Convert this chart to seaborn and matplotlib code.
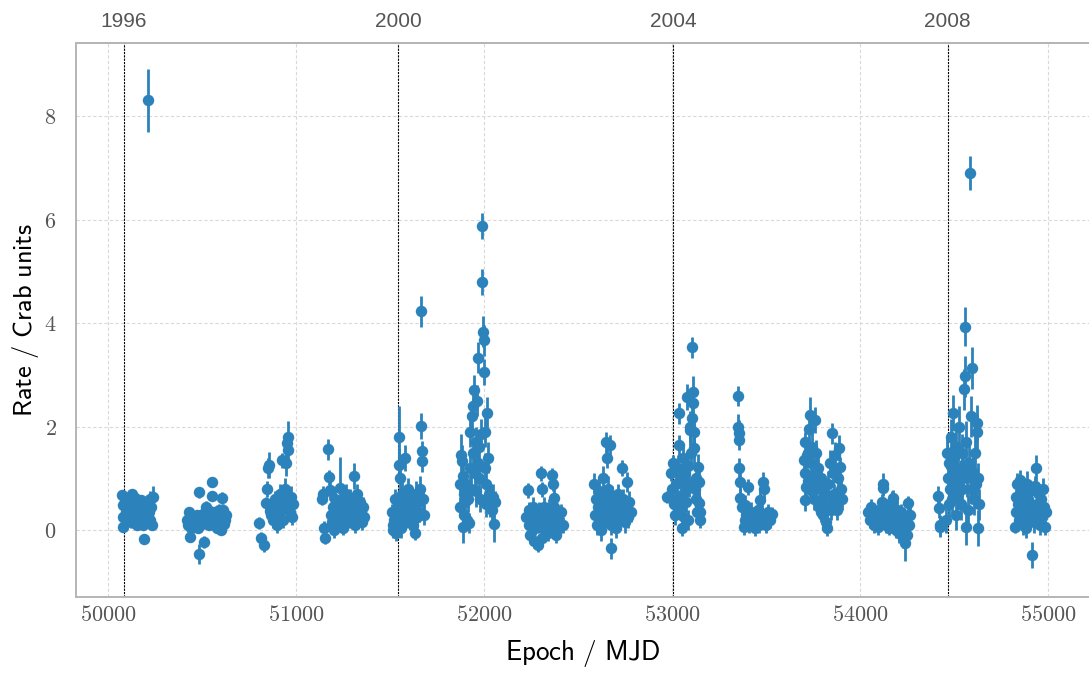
import numpy as np
import pandas as pd
import matplotlib
matplotlib.use("Agg")
import matplotlib.pyplot as plt
import seaborn as sns

# ---------------------------------------------------------------------------
# Light curve: rate (Crab units) per observing season, with 1-sigma errors
# ---------------------------------------------------------------------------
mjd_s01 = [50075, 50078, 50080, 50082, 50090, 50095, 50100, 50105, 50110, 50115, 50120, 50125,
           50130, 50135, 50140, 50145, 50150, 50155, 50160, 50165, 50170, 50175, 50180, 50185,
           50190, 50195, 50200, 50205, 50210, 50214, 50218, 50222, 50226, 50230, 50234, 50238]
rate_s01 = [0.68, 0.48, 0.25, 0.06, 0.55, 0.35, 0.42, 0.20, 0.60, 0.30, 0.15, 0.50,
            0.70, 0.40, 0.25, 0.62, 0.35, 0.10, 0.50, 0.45, 0.20, 0.58, 0.30, 0.10,
            -0.17, 0.40, 0.55, 0.25, 0.15, 8.30, 0.35, 0.60, 0.20, 0.45, 0.10, 0.65]
err_s01 = [0.08, 0.10, 0.10, 0.10, 0.10, 0.12, 0.10, 0.10, 0.10, 0.10, 0.10, 0.12,
           0.10, 0.10, 0.10, 0.10, 0.10, 0.10, 0.10, 0.12, 0.10, 0.10, 0.10, 0.10,
           0.10, 0.10, 0.10, 0.10, 0.10, 0.60, 0.10, 0.15, 0.10, 0.12, 0.10, 0.20]

mjd_s02 = [50420, 50426, 50431, 50436, 50442, 50448, 50454, 50460, 50466, 50472, 50478, 50484,
           50486, 50490, 50496, 50502, 50511, 50516, 50522, 50528, 50534, 50540, 50546, 50553,
           50555, 50560, 50566, 50572, 50578, 50584, 50590, 50596, 50602, 50606, 50612, 50618,
           50624, 50630]
rate_s02 = [0.20, 0.10, 0.35, -0.13, 0.05, 0.20, 0.15, 0.25, 0.10, 0.30, 0.05, 0.73,
            -0.46, 0.20, 0.30, 0.12, -0.23, 0.35, 0.45, 0.25, 0.40, 0.10, 0.30, 0.93,
            0.66, 0.15, 0.35, 0.20, 0.05, 0.30, 0.40, 0.25, 0.00, 0.62, 0.40, 0.12,
            0.20, 0.30]
err_s02 = [0.10, 0.10, 0.10, 0.10, 0.10, 0.10, 0.12, 0.10, 0.10, 0.10, 0.10, 0.10,
           0.20, 0.10, 0.10, 0.10, 0.12, 0.10, 0.12, 0.10, 0.10, 0.10, 0.10, 0.10,
           0.10, 0.12, 0.10, 0.10, 0.10, 0.10, 0.10, 0.10, 0.10, 0.12, 0.10, 0.10,
           0.12, 0.10]

mjd_s03 = [50805, 50814, 50830, 50840, 50846, 50851, 50855, 50862, 50868, 50874, 50880, 50886,
           50892, 50898, 50904, 50910, 50916, 50922, 50926, 50930, 50936, 50942, 50946, 50950,
           50952, 50957, 50960, 50966, 50972, 50978, 50984]
rate_s03 = [0.14, -0.15, -0.28, 0.52, 0.80, 1.20, 1.26, 0.38, 0.30, 0.45, 0.20, 0.60,
            0.35, 0.10, 0.50, 0.30, 0.70, 0.40, 1.35, 0.20, 0.55, 0.80, 1.30, 0.45,
            1.68, 1.80, 1.55, 0.35, 0.65, 0.25, 0.50]
err_s03 = [0.12, 0.12, 0.15, 0.12, 0.15, 0.20, 0.25, 0.15, 0.12, 0.15, 0.15, 0.15,
           0.20, 0.15, 0.15, 0.20, 0.20, 0.15, 0.15, 0.15, 0.20, 0.20, 0.25, 0.15,
           0.20, 0.30, 0.25, 0.15, 0.20, 0.15, 0.15]

mjd_s04 = [51140, 51144, 51150, 51155, 51170, 51175, 51180, 51185, 51190, 51196, 51202, 51208,
           51214, 51220, 51226, 51234, 51240, 51246, 51252, 51258, 51264, 51270, 51276, 51282,
           51288, 51294, 51300, 51309, 51314, 51320, 51326, 51332, 51338, 51344, 51350, 51356,
           51362]
rate_s04 = [0.60, 0.70, 0.05, -0.15, 1.56, 1.02, 0.78, 0.30, 0.15, 0.45, 0.00, 0.60,
            0.25, 0.10, 0.40, 0.82, 0.20, 0.55, 0.05, 0.35, 0.70, 0.15, 0.45, 0.25,
            0.60, 0.30, 0.50, 1.05, 0.10, 0.40, 0.70, 0.20, 0.55, 0.35, 0.15, 0.45,
            0.25]
err_s04 = [0.12, 0.15, 0.12, 0.12, 0.20, 0.15, 0.20, 0.15, 0.15, 0.20, 0.15, 0.20,
           0.15, 0.15, 0.20, 0.60, 0.15, 0.20, 0.15, 0.20, 0.20, 0.15, 0.20, 0.20,
           0.20, 0.15, 0.20, 0.25, 0.15, 0.20, 0.20, 0.15, 0.20, 0.15, 0.15, 0.20,
           0.15]

mjd_s05 = [51510, 51514, 51518, 51522, 51526, 51530, 51534, 51538, 51542, 51546, 51548, 51552,
           51556, 51560, 51565, 51570, 51575, 51580, 51585, 51590, 51595, 51600, 51605, 51610,
           51615, 51620, 51625, 51633, 51638, 51643, 51648, 51653, 51658, 51663, 51665, 51668,
           51670, 51675, 51680]
rate_s05 = [0.35, 0.10, 0.00, 0.20, 0.60, -0.05, 0.30, 0.15, 0.50, 1.26, 1.80, 1.00,
            0.50, 0.05, 0.70, 0.35, 0.20, 1.39, 0.55, 0.25, 0.80, 0.40, 0.15, 0.60,
            0.30, 0.10, 0.45, -0.06, 0.70, 0.25, 0.55, 0.35, 0.80, 4.23, 2.01, 1.53,
            1.33, 0.60, 0.30]
err_s05 = [0.15, 0.15, 0.15, 0.20, 0.20, 0.15, 0.20, 0.20, 0.20, 0.30, 0.60, 0.40,
           0.30, 0.20, 0.30, 0.20, 0.20, 0.25, 0.20, 0.20, 0.20, 0.20, 0.15, 0.20,
           0.20, 0.15, 0.20, 0.12, 0.25, 0.20, 0.20, 0.20, 0.25, 0.30, 0.25, 0.20,
           0.20, 0.20, 0.20]

mjd_s06 = [51870, 51875, 51880, 51883, 51886, 51888, 51892, 51896, 51900, 51905, 51910, 51915,
           51920, 51924, 51928, 51932, 51936, 51940, 51944, 51947, 51950, 51955, 51960, 51963,
           51966, 51968, 51972, 51976, 51980, 51984, 51989, 51992, 51995, 51998, 52000, 52003,
           52006, 52010, 52013, 52016, 52020, 52025, 52030, 52035, 52040, 52045, 52048, 52053,
           52058]
rate_s06 = [0.90, 0.45, 1.45, 1.34, 0.06, 1.05, 0.70, 0.30, 0.55, 0.90, 0.20, 0.60,
            0.14, 1.20, 1.90, 0.80, 2.20, 2.40, 1.50, 2.70, 1.10, 1.70, 0.75, 2.50,
            1.30, 3.33, 1.00, 1.60, 0.60, 1.85, 5.88, 4.80, 3.83, 3.67, 3.05, 1.90,
            1.20, 0.90, 0.50, 2.27, 1.40, 0.70, 0.50, 0.65, 0.40, 0.60, 0.64, 0.12,
            0.55]
err_s06 = [0.20, 0.20, 0.40, 0.30, 0.30, 0.30, 0.25, 0.20, 0.25, 0.20, 0.20, 0.25,
           0.20, 0.30, 0.30, 0.25, 0.30, 0.30, 0.30, 0.30, 0.30, 0.30, 0.30, 0.30,
           0.30, 0.30, 0.30, 0.30, 0.25, 0.30, 0.25, 0.25, 0.30, 0.30, 0.25, 0.30,
           0.30, 0.25, 0.25, 0.30, 0.30, 0.25, 0.25, 0.25, 0.25, 0.25, 0.25, 0.35,
           0.20]

mjd_s07 = [52225, 52234, 52238, 52242, 52246, 52250, 52255, 52260, 52265, 52270, 52275, 52287,
           52290, 52295, 52303, 52306, 52310, 52314, 52318, 52323, 52330, 52335, 52340, 52345,
           52350, 52355, 52362, 52367, 52370, 52375, 52380, 52385, 52390, 52395, 52400, 52410,
           52420]
rate_s07 = [0.25, 0.77, 0.40, 0.10, -0.10, 0.30, 0.15, 0.45, -0.20, 0.05, 0.25, -0.28,
            0.35, 0.10, 1.10, 0.79, -0.15, 0.20, 0.45, 0.00, 0.30, 0.12, -0.05, 0.40,
            0.20, 0.05, 1.06, 0.90, 0.62, 0.45, 0.15, -0.10, 0.30, 0.20, 0.05, 0.35,
            0.10]
err_s07 = [0.15, 0.15, 0.15, 0.15, 0.15, 0.20, 0.15, 0.20, 0.15, 0.15, 0.15, 0.15,
           0.20, 0.15, 0.15, 0.15, 0.15, 0.15, 0.20, 0.15, 0.20, 0.15, 0.15, 0.20,
           0.15, 0.15, 0.15, 0.15, 0.20, 0.20, 0.15, 0.15, 0.15, 0.15, 0.15, 0.15,
           0.15]

mjd_s08 = [52585, 52590, 52595, 52600, 52605, 52610, 52615, 52620, 52625, 52630, 52635, 52640,
           52645, 52649, 52654, 52657, 52660, 52665, 52670, 52673, 52678, 52683, 52690, 52695,
           52700, 52705, 52712, 52718, 52725, 52734, 52738, 52742, 52748, 52755, 52761, 52767,
           52773, 52780]
rate_s08 = [0.90, 0.30, 0.60, 0.10, 0.45, 0.75, 0.20, 0.00, 0.55, 0.35, 1.00, 0.15,
            0.60, 1.70, 1.40, 0.80, 0.30, 0.50, 1.64, -0.35, 0.10, 0.65, 0.25, 0.45,
            0.05, 0.35, 0.70, 0.20, 0.50, 1.20, 0.30, 0.60, 0.15, 0.40, 0.93, 0.25,
            0.55, 0.35]
err_s08 = [0.20, 0.20, 0.20, 0.20, 0.20, 0.20, 0.20, 0.20, 0.20, 0.20, 0.25, 0.20,
           0.20, 0.20, 0.20, 0.25, 0.20, 0.20, 0.20, 0.20, 0.20, 0.20, 0.20, 0.20,
           0.20, 0.20, 0.20, 0.20, 0.20, 0.15, 0.20, 0.20, 0.20, 0.20, 0.20, 0.20,
           0.20, 0.20]

mjd_s09 = [52973, 52995, 53000, 53005, 53010, 53015, 53020, 53025, 53030, 53035, 53038, 53042,
           53046, 53053, 53056, 53060, 53064, 53068, 53072, 53076, 53080, 53083, 53086, 53090,
           53094, 53097, 53100, 53106, 53108, 53110, 53112, 53115, 53118, 53122, 53126, 53130,
           53135, 53140, 53142, 53145, 53148, 53150]
rate_s09 = [0.64, 1.10, 0.80, 1.30, 0.50, 0.30, 0.90, 0.60, 1.20, 2.26, 1.64, 0.40,
            1.00, 0.04, 0.70, 1.40, 0.25, 1.10, 0.55, 0.80, 2.58, 0.20, 1.25, 0.90,
            2.00, 1.93, 1.50, 3.53, 2.17, 2.67, 2.45, 1.58, 1.90, 0.80, 1.00, 0.60,
            0.35, 1.22, 0.93, 0.52, 0.35, 0.19]
err_s09 = [0.12, 0.15, 0.15, 0.15, 0.20, 0.20, 0.20, 0.20, 0.25, 0.20, 0.20, 0.20,
           0.25, 0.15, 0.25, 0.25, 0.20, 0.25, 0.20, 0.25, 0.25, 0.20, 0.25, 0.25,
           0.30, 0.30, 0.30, 0.20, 0.30, 0.30, 0.30, 0.30, 0.30, 0.30, 0.30, 0.25,
           0.20, 0.25, 0.25, 0.20, 0.20, 0.15]

mjd_s10 = [53350, 53352, 53354, 53356, 53358, 53360, 53363, 53370, 53383, 53386, 53389, 53395,
           53404, 53410, 53420, 53430, 53441, 53450, 53458, 53465, 53470, 53478, 53485, 53490,
           53495, 53500, 53510, 53520, 53532]
rate_s10 = [2.59, 2.00, 1.87, 1.74, 1.20, 0.93, 0.62, 0.45, 0.06, 0.19, 0.48, 0.30,
            0.83, 0.10, 0.35, 0.15, 0.04, 0.25, 0.40, 0.10, 0.58, 0.30, 0.93, 0.80,
            0.20, 0.10, 0.35, 0.20, 0.32]
err_s10 = [0.20, 0.25, 0.25, 0.20, 0.20, 0.20, 0.20, 0.15, 0.15, 0.15, 0.20, 0.15,
           0.15, 0.15, 0.20, 0.15, 0.15, 0.15, 0.20, 0.15, 0.20, 0.20, 0.20, 0.20,
           0.15, 0.15, 0.15, 0.15, 0.12]

mjd_s11 = [53700, 53705, 53708, 53710, 53715, 53720, 53725, 53730, 53734, 53738, 53742, 53746,
           53750, 53755, 53761, 53765, 53770, 53775, 53780, 53785, 53790, 53795, 53800, 53805,
           53810, 53815, 53820, 53824, 53830, 53835, 53840, 53845, 53851, 53855, 53860, 53865,
           53870, 53878, 53882, 53888, 53893, 53898, 53903]
rate_s11 = [1.35, 1.70, 1.10, 0.58, 0.84, 1.45, 0.95, 1.95, 2.22, 1.30, 0.75, 1.60,
            1.05, 0.60, 2.13, 1.50, 0.90, 1.20, 0.45, 0.80, 0.35, 1.00, 0.60, 0.30,
            0.75, 0.50, 0.15, 0.04, 0.90, 0.55, 1.30, 0.40, 1.87, 1.10, 0.70, 1.45,
            0.50, 0.39, 1.00, 1.58, 1.22, 0.80, 0.60]
err_s11 = [0.20, 0.20, 0.20, 0.20, 0.20, 0.25, 0.20, 0.30, 0.35, 0.25, 0.20, 0.30,
           0.20, 0.20, 0.25, 0.25, 0.20, 0.25, 0.20, 0.25, 0.20, 0.20, 0.20, 0.20,
           0.25, 0.20, 0.20, 0.15, 0.25, 0.20, 0.25, 0.20, 0.20, 0.25, 0.20, 0.25,
           0.20, 0.20, 0.25, 0.25, 0.20, 0.20, 0.20]

mjd_s12 = [54045, 54052, 54058, 54064, 54069, 54075, 54082, 54090, 54096, 54103, 54110, 54116,
           54120, 54123, 54130, 54136, 54142, 54148, 54155, 54162, 54168, 54172, 54178, 54183,
           54190, 54196, 54202, 54210, 54216, 54222, 54228, 54234, 54239, 54245, 54250, 54255,
           54262, 54268]
rate_s12 = [0.35, 0.20, 0.45, 0.37, 0.25, 0.10, 0.30, 0.15, 0.06, 0.40, 0.20, 0.55,
            0.82, 0.90, 0.30, 0.10, 0.45, 0.25, 0.05, 0.35, 0.55, 0.15, 0.62, 0.30,
            0.00, 0.40, 0.20, -0.05, 0.35, 0.10, -0.15, 0.05, -0.25, 0.20, -0.10, 0.52,
            0.10, 0.30]
err_s12 = [0.15, 0.15, 0.15, 0.15, 0.15, 0.15, 0.15, 0.15, 0.15, 0.15, 0.15, 0.15,
           0.15, 0.20, 0.15, 0.15, 0.15, 0.15, 0.15, 0.15, 0.20, 0.15, 0.15, 0.15,
           0.15, 0.20, 0.15, 0.20, 0.15, 0.15, 0.20, 0.20, 0.35, 0.20, 0.20, 0.15,
           0.20, 0.15]

mjd_s13 = [54415, 54420, 54424, 54428, 54460, 54465, 54468, 54472, 54476, 54480, 54484, 54488,
           54492, 54495, 54500, 54504, 54508, 54512, 54516, 54520, 54525, 54530, 54535, 54540,
           54545, 54550, 54553, 54556, 54559, 54562, 54565, 54570, 54575, 54580, 54585, 54590,
           54593, 54596, 54600, 54605, 54610, 54615, 54620, 54622, 54626, 54630, 54634]
rate_s13 = [0.66, 0.43, 0.06, 0.10, 0.20, 1.49, 1.00, 0.50, 1.30, 0.80, 1.80, 0.60,
            1.10, 2.26, 1.40, 0.90, 0.30, 1.60, 1.20, 0.70, 2.00, 1.00, 0.50, 1.50,
            0.80, 1.20, 2.72, 2.97, 3.93, 0.06, 1.70, 1.00, 0.40, 1.30, 6.90, 0.80,
            2.20, 3.13, 1.10, 0.60, 1.50, 0.90, 2.07, 1.90, 0.04, 1.00, 0.50]
err_s13 = [0.20, 0.20, 0.20, 0.20, 0.25, 0.30, 0.30, 0.30, 0.30, 0.30, 0.35, 0.30,
           0.30, 0.35, 0.35, 0.30, 0.30, 0.35, 0.35, 0.30, 0.40, 0.35, 0.30, 0.35,
           0.30, 0.35, 0.40, 0.40, 0.38, 0.35, 0.40, 0.35, 0.30, 0.35, 0.33, 0.30,
           0.40, 0.40, 0.35, 0.30, 0.35, 0.30, 0.35, 0.35, 0.35, 0.30, 0.30]

mjd_s14 = [54824, 54828, 54832, 54836, 54840, 54845, 54851, 54855, 54860, 54865, 54870, 54875,
           54880, 54885, 54890, 54895, 54900, 54905, 54910, 54915, 54920, 54925, 54930, 54936,
           54940, 54945, 54950, 54955, 54960, 54965, 54970, 54975, 54980, 54984, 54988]
rate_s14 = [0.06, 0.65, 0.35, 0.90, 0.50, 0.20, 0.97, 0.70, 0.40, 0.10, 0.80, 0.55,
            0.30, 0.05, 0.90, 0.60, 0.25, 0.75, 0.45, -0.48, 0.35, 0.15, 0.85, 1.20,
            0.50, 0.25, 0.70, 0.40, 0.10, 0.60, 0.30, 0.80, 0.45, 0.06, 0.35]
err_s14 = [0.12, 0.15, 0.15, 0.20, 0.20, 0.15, 0.20, 0.20, 0.20, 0.20, 0.20, 0.20,
           0.20, 0.20, 0.25, 0.20, 0.20, 0.20, 0.20, 0.25, 0.20, 0.20, 0.20, 0.25,
           0.20, 0.20, 0.20, 0.20, 0.20, 0.20, 0.20, 0.20, 0.20, 0.15, 0.15]

# Calendar years marked on the upper axis (MJD of 1 January)
year_mjd = [50083, 51544, 53005, 54466]
year_labels = ["1996", "2000", "2004", "2008"]

x_ticks = [50000, 51000, 52000, 53000, 54000, 55000]
y_ticks = [0, 2, 4, 6, 8]

# ---------------------------------------------------------------------------
seasons = [
    (mjd_s01, rate_s01, err_s01), (mjd_s02, rate_s02, err_s02), (mjd_s03, rate_s03, err_s03),
    (mjd_s04, rate_s04, err_s04), (mjd_s05, rate_s05, err_s05), (mjd_s06, rate_s06, err_s06),
    (mjd_s07, rate_s07, err_s07), (mjd_s08, rate_s08, err_s08), (mjd_s09, rate_s09, err_s09),
    (mjd_s10, rate_s10, err_s10), (mjd_s11, rate_s11, err_s11), (mjd_s12, rate_s12, err_s12),
    (mjd_s13, rate_s13, err_s13), (mjd_s14, rate_s14, err_s14),
]
df = pd.concat(
    [pd.DataFrame({"mjd": m, "rate": r, "err": e}) for m, r, e in seasons],
    ignore_index=True,
)

sns.set_theme(style="whitegrid")
plt.rcParams["mathtext.fontset"] = "cm"
plt.rcParams["font.family"] = ["DejaVu Sans"]

blue = "#2c83bb"
grey_txt = "#555555"

fig = plt.figure(figsize=(10.89, 6.73), dpi=100)
ax = fig.add_axes([0.0698, 0.1129, 0.9302, 0.8232])

ax.errorbar(df["mjd"], df["rate"], yerr=df["err"], fmt="none",
            ecolor=blue, elinewidth=2.0, capsize=0, zorder=3)
sns.scatterplot(data=df, x="mjd", y="rate", ax=ax, color=blue, s=68,
                linewidth=0, edgecolor=blue, zorder=4, legend=False)

for m in year_mjd:
    ax.axvline(m, color="black", lw=0.8, ls=(0, (2, 1)), zorder=2)

ax.set_xlim(49830, 55218)
ax.set_ylim(-1.29, 9.41)

ax.set_xticks(x_ticks)
ax.set_xticklabels([rf"${t}$" for t in x_ticks])
ax.set_yticks(y_ticks)
ax.set_yticklabels([rf"${t}$" for t in y_ticks])
ax.tick_params(axis="both", length=0, labelsize=16, labelcolor=grey_txt)
ax.tick_params(axis="x", pad=6)
ax.tick_params(axis="y", pad=14)

ax.grid(True, color="#d9d9d9", lw=0.8, ls=(0, (3, 2)))

for side in ("left", "top", "bottom"):
    ax.spines[side].set_color("#b5b5b5")
    ax.spines[side].set_linewidth(1.4)
ax.spines["right"].set_visible(False)

ax.set_xlabel(r"$\mathsf{Epoch\ /\ MJD}$", fontsize=19.5, color="black", labelpad=9)
ax.set_ylabel(r"$\mathsf{Rate\ /\ Crab\ units}$", fontsize=19, color="black", labelpad=2)

top = ax.secondary_xaxis("top")
top.set_xticks(year_mjd)
top.set_xticklabels(year_labels, family=["Liberation Sans", "DejaVu Sans"])
top.tick_params(length=0, labelsize=15, labelcolor=grey_txt, pad=9)
top.spines["top"].set_color("#b5b5b5")
top.spines["top"].set_linewidth(1.4)

fig.savefig("out.png", dpi=100)
